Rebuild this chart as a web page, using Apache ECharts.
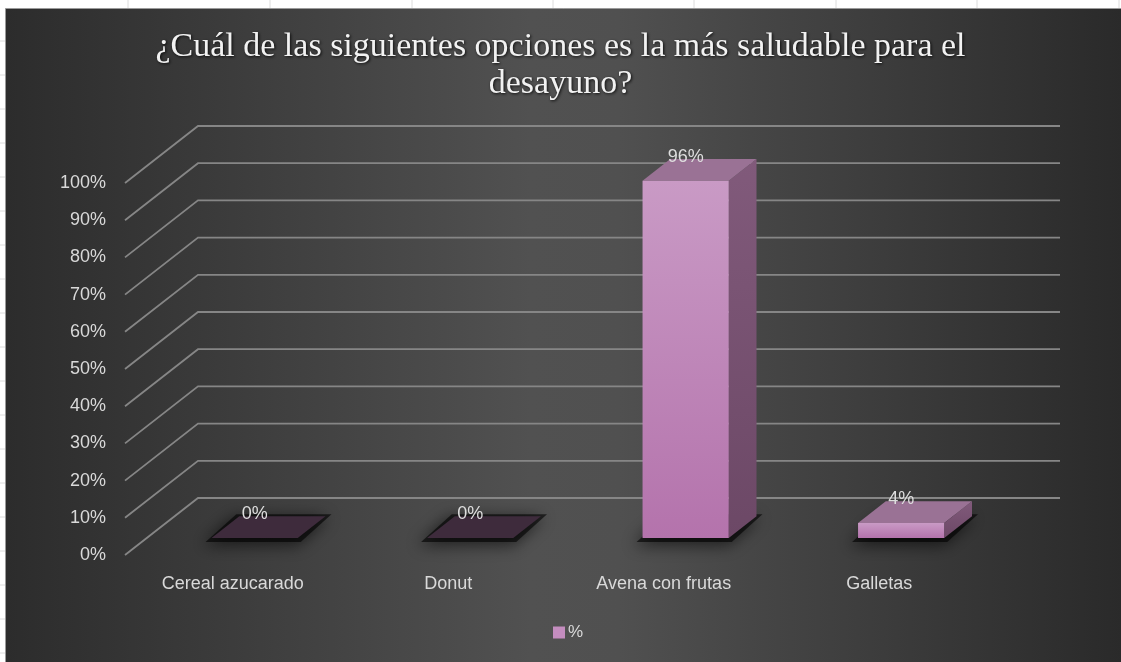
<!DOCTYPE html>
<html>
<head>
<meta charset="utf-8">
<title>Desayuno saludable</title>
<script src="https://cdn.jsdelivr.net/npm/echarts@6/dist/echarts.min.js"></script>
<style>
  html, body { margin: 0; padding: 0; background: #ffffff; }
  #chart { width: 1121px; height: 662px; }
</style>
</head>
<body>
<div id="chart"></div>
<script>
// ---- data ----
const categories = ['Cereal azucarado', 'Donut', 'Avena con frutas', 'Galletas'];
const seriesName = '%';
const values = [0, 0, 96, 4];
const tickValues = [0, 10, 20, 30, 40, 50, 60, 70, 80, 90, 100];

// ---- 3D look: offset of the back wall from the front plane (px) ----
const DEPTH_X = 73;
const DEPTH_Y = -57;
const F_FRONT = 0.30;   // bar front face, as a fraction of the floor depth
const F_BACK = 0.68;    // bar back face
const BAR_W = 0.40;     // bar width, as a fraction of the category band

const chart = echarts.init(document.getElementById('chart'), null, { renderer: 'canvas' });

// back-wall gridlines with their diagonal side-wall segments
function renderGridLine(params, api) {
  const v = api.value(0);
  const cs = params.coordSys;
  const p = api.coord([0, v]);
  const x0 = cs.x, x1 = cs.x + cs.width;
  return {
    type: 'polyline',
    silent: true,
    shape: { points: [[x0, p[1]], [x0 + DEPTH_X, p[1] + DEPTH_Y], [x1 + DEPTH_X, p[1] + DEPTH_Y]] },
    style: { stroke: '#868686', lineWidth: 1.8, fill: null }
  };
}

// a box-shaped bar: floor shadow, front face, right side and top
function renderBar(params, api) {
  const i = api.value(0);
  const v = api.value(1);
  const band = api.size([1, 0])[0];
  const base = api.coord([i, 0]);
  const top = api.coord([i, v]);
  const w = band * BAR_W;
  const sx = DEPTH_X * F_FRONT, sy = DEPTH_Y * F_FRONT;
  const dx = DEPTH_X * (F_BACK - F_FRONT), dy = DEPTH_Y * (F_BACK - F_FRONT);
  const xl = base[0] - w / 2 + sx, xr = base[0] + w / 2 + sx;
  const yb = base[1] + sy, yt = top[1] + sy;
  const children = [];

  // soft shadow round the foot of the bar
  children.push({
    type: 'polygon',
    shape: { points: [[xl - 6, yb + 4], [xr + 3, yb + 4], [xr + dx + 6, yb + dy - 2], [xl + dx - 3, yb + dy - 2]] },
    style: { fill: 'rgba(0,0,0,0.6)', shadowBlur: 16, shadowColor: 'rgba(0,0,0,1)', shadowOffsetX: -3, shadowOffsetY: 3 }
  });

  if (v > 0) {
    children.push({
      type: 'polygon',
      shape: { points: [[xr, yt], [xr + dx, yt + dy], [xr + dx, yb + dy], [xr, yb]] },
      style: {
        fill: new echarts.graphic.LinearGradient(0, 0, 0, 1, [
          { offset: 0, color: '#815a7b' }, { offset: 1, color: '#6c4866' }
        ])
      }
    });
    children.push({
      type: 'polygon',
      shape: { points: [[xl, yt], [xr, yt], [xr + dx, yt + dy], [xl + dx, yt + dy]] },
      style: { fill: '#9a7295' }
    });
    children.push({
      type: 'rect',
      shape: { x: xl, y: yt, width: w, height: yb - yt },
      style: {
        fill: new echarts.graphic.LinearGradient(0, 0, 0, 1, [
          { offset: 0, color: '#c99ac5' }, { offset: 1, color: '#b473ac' }
        ])
      }
    });
  } else {
    children.push({
      type: 'polygon',
      shape: { points: [[xl, yb], [xr, yb], [xr + dx, yb + dy], [xl + dx, yb + dy]] },
      style: { fill: '#3e2b3c' }
    });
  }

  // value label
  children.push({
    type: 'text',
    style: {
      text: v + '%',
      x: base[0] + sx,
      y: yt + dy - 2,
      align: 'center',
      verticalAlign: 'middle',
      fill: '#dedede',
      font: '18px "Liberation Sans", Arial, sans-serif'
    }
  });
  return { type: 'group', children: children };
}

// spreadsheet cells showing round the chart object
const sheetLines = [];
[128, 270, 412, 553, 694, 836, 977, 1119].forEach(function (x) {
  sheetLines.push({ type: 'line', z: -2, silent: true, shape: { x1: x, y1: 0, x2: x, y2: 8 }, style: { stroke: '#dcdcdc', lineWidth: 1 } });
});
for (let y = 41; y < 662; y += 34) {
  sheetLines.push({ type: 'line', z: -2, silent: true, shape: { x1: 0, y1: y, x2: 5, y2: y }, style: { stroke: '#dcdcdc', lineWidth: 1 } });
}

const option = {
  backgroundColor: '#ffffff',
  animation: false,
  title: {
    text: '¿Cuál de las siguientes opciones es la más saludable para el\ndesayuno?',
    left: 'center',
    top: 29,
    padding: [0, 0, 0, 26],
    textStyle: {
      fontFamily: '"Liberation Serif", "Times New Roman", serif',
      fontWeight: 'normal',
      fontSize: 34,
      lineHeight: 37,
      color: '#f2f2f2',
      textShadowColor: 'rgba(0,0,0,0.85)',
      textShadowBlur: 3,
      textShadowOffsetX: 1,
      textShadowOffsetY: 1
    }
  },
  graphic: [
    {
      type: 'rect',
      z: -1,
      silent: true,
      shape: { x: 5.5, y: 8.5, width: 1116, height: 654 },
      style: {
        fill: new echarts.graphic.LinearGradient(0, 0, 1, 0, [
          { offset: 0, color: '#2c2c2c' },
          { offset: 0.47, color: '#515151' },
          { offset: 0.55, color: '#505050' },
          { offset: 1, color: '#2a2a2a' }
        ]),
        stroke: '#9a9a9a',
        lineWidth: 1
      }
    }
  ].concat(sheetLines),
  legend: {
    data: [seriesName],
    left: 553,
    top: 624,
    padding: 0,
    icon: 'rect',
    itemWidth: 12,
    itemHeight: 12,
    itemGap: 4,
    textStyle: { color: '#d9d9d9', fontSize: 17, padding: [0, 0, 0, -2], fontFamily: '"Liberation Sans", Arial, sans-serif' }
  },
  grid: { left: 125, right: 134, top: 183, bottom: 107, containLabel: false },
  xAxis: {
    type: 'category',
    data: categories,
    axisLine: { show: false },
    axisTick: { show: false },
    splitLine: { show: false },
    axisLabel: {
      color: '#d9d9d9',
      fontSize: 18,
      margin: 20,
      fontFamily: '"Liberation Sans", Arial, sans-serif'
    }
  },
  yAxis: {
    type: 'value',
    min: 0,
    max: 100,
    interval: 10,
    axisLine: { show: false },
    axisTick: { show: false },
    splitLine: { show: false },
    axisLabel: {
      formatter: '{value}%',
      color: '#d9d9d9',
      fontSize: 18,
      margin: 19,
      fontFamily: '"Liberation Sans", Arial, sans-serif'
    }
  },
  series: [
    {
      type: 'custom',
      name: 'grid-lines',
      silent: true,
      z: 1,
      renderItem: renderGridLine,
      data: tickValues.map(function (t) { return [t]; }),
      encode: { y: 0 },
      legendHoverLink: false
    },
    {
      type: 'custom',
      name: seriesName,
      z: 3,
      itemStyle: { color: '#c48dbf' },
      renderItem: renderBar,
      data: values.map(function (v, i) { return [i, v]; }),
      encode: { x: 0, y: 1 }
    }
  ]
};

chart.setOption(option);
</script>
</body>
</html>
